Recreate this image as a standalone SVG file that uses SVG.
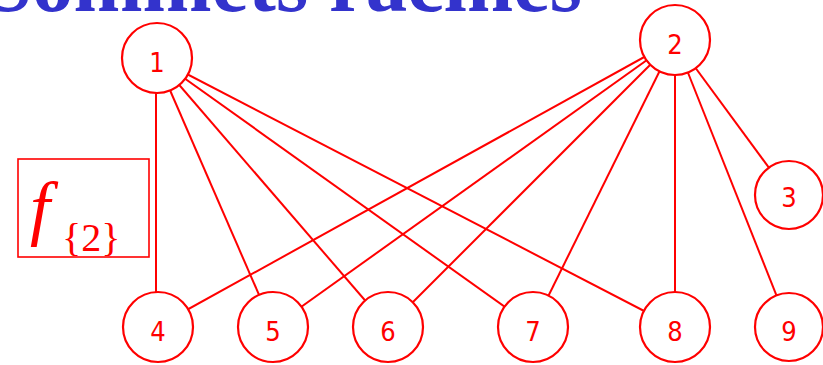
<svg xmlns="http://www.w3.org/2000/svg" width="823" height="365" viewBox="0 0 823 365">
<style>
.e{stroke:#ff0000;stroke-width:2;fill:none}
.n circle{fill:#ffffff;stroke:#ff0000;stroke-width:2.2}
.n text{font-family:"DejaVu Sans",sans-serif;font-stretch:condensed;font-size:27px;fill:#ff0000;text-anchor:middle}
</style>
<rect width="823" height="365" fill="#ffffff"/>
<text x="-14" y="11" font-family="Liberation Serif, serif" font-weight="bold" font-size="86" fill="#3333cc" textLength="596" lengthAdjust="spacingAndGlyphs">Sommets racines</text>
<g id="box">
<rect x="18" y="159" width="131" height="98" fill="none" stroke="#ff0000" stroke-width="1.6"/>
<text x="30" y="232" font-family="Liberation Serif, serif" font-style="italic" font-size="72" fill="#ff0000">f</text>
<text x="62" y="251" font-family="Liberation Serif, serif" font-size="40" fill="#ff0000">{2}</text>
</g>
<g id="edges">
<line class="e" x1="156" y1="58" x2="156" y2="327"/>
<line class="e" x1="156" y1="58" x2="273" y2="327"/>
<line class="e" x1="156" y1="58" x2="388" y2="327"/>
<line class="e" x1="156" y1="58" x2="533" y2="327"/>
<line class="e" x1="156" y1="58" x2="675" y2="327"/>
<line class="e" x1="675" y1="40" x2="156" y2="327"/>
<line class="e" x1="675" y1="40" x2="273" y2="327"/>
<line class="e" x1="675" y1="40" x2="388" y2="327"/>
<line class="e" x1="675" y1="40" x2="533" y2="327"/>
<line class="e" x1="675" y1="40" x2="675" y2="327"/>
<line class="e" x1="675" y1="40" x2="789" y2="327"/>
<line class="e" x1="675" y1="40" x2="789" y2="195"/>
</g>
<g id="n1" class="n"><circle cx="157" cy="58" r="35"/><text x="157" y="72">1</text></g>
<g id="n2" class="n"><circle cx="675" cy="40" r="35"/><text x="675" y="54">2</text></g>
<g id="n3" class="n"><circle cx="789" cy="195" r="34"/><text x="789" y="207">3</text></g>
<g id="n4" class="n"><circle cx="158" cy="327" r="35"/><text x="158" y="341">4</text></g>
<g id="n5" class="n"><circle cx="273" cy="327" r="35"/><text x="273" y="341">5</text></g>
<g id="n6" class="n"><circle cx="388" cy="327" r="35"/><text x="388" y="341">6</text></g>
<g id="n7" class="n"><circle cx="533" cy="327" r="35"/><text x="533" y="341">7</text></g>
<g id="n8" class="n"><circle cx="675" cy="327" r="35"/><text x="675" y="341">8</text></g>
<g id="n9" class="n"><circle cx="789" cy="327" r="34"/><text x="789" y="341">9</text></g>
</svg>
